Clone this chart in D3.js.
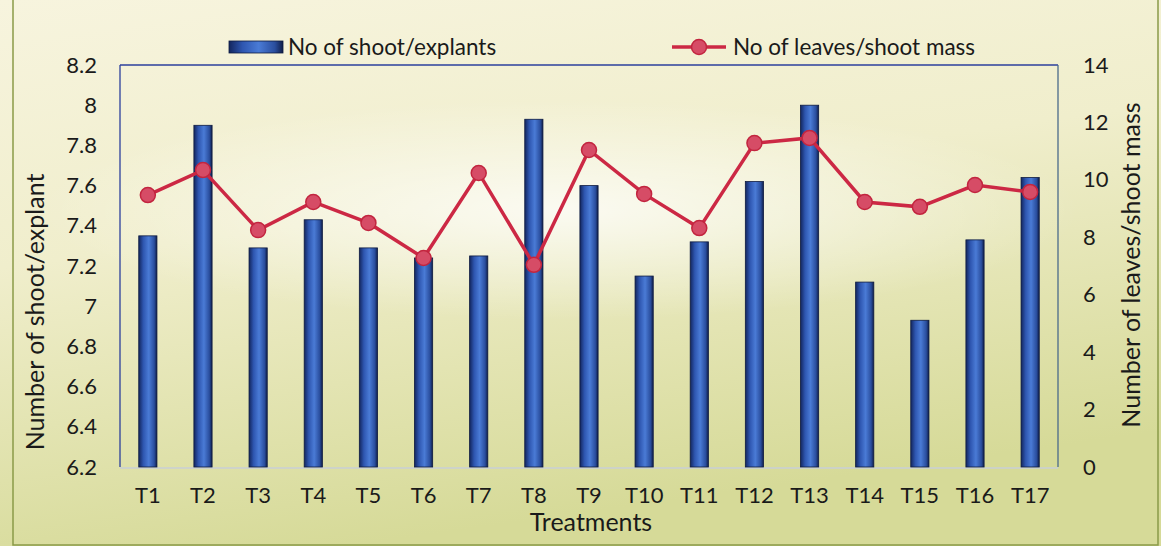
<!DOCTYPE html>
<html>
<head>
<meta charset="utf-8">
<script src="https://cdn.jsdelivr.net/npm/d3@7"></script>
<style>
  body { margin: 0; background: #fff; }
  svg { display: block; font-family: Lato, "Open Sans", sans-serif; }
</style>
</head>
<body>
<script>
// data
const treatments = ['T1','T2','T3','T4','T5','T6','T7','T8','T9','T10','T11','T12','T13','T14','T15','T16','T17']
const shoots = [7.35, 7.90, 7.29, 7.43, 7.29, 7.24, 7.25, 7.93, 7.60, 7.15, 7.32, 7.62, 8.00, 7.12, 6.93, 7.33, 7.64]
const leaves = [9.47, 10.34, 8.25, 9.23, 8.50, 7.28, 10.24, 7.04, 11.04, 9.51, 8.32, 11.28, 11.46, 9.23, 9.06, 9.82, 9.58]
const leftTicks = [6.2, 6.4, 6.6, 6.8, 7, 7.2, 7.4, 7.6, 7.8, 8, 8.2]
const rightTicks = [0, 2, 4, 6, 8, 10, 12, 14]

const svgw = 1161
const svgh = 546
const pLeft = 120, pRight = 1058, pTop = 65, pBottom = 467

const svg = d3.select('body').append('svg').attr('width', svgw).attr('height', svgh)
const defs = svg.append('defs')

// scanned paper background
const bg = defs.append('linearGradient').attr('id', 'bg').attr('x1', 0).attr('y1', 0).attr('x2', 0.3).attr('y2', 1)
bg.append('stop').attr('offset', '0%').attr('stop-color', '#f7f4de')
bg.append('stop').attr('offset', '45%').attr('stop-color', '#f0eecc')
bg.append('stop').attr('offset', '100%').attr('stop-color', '#d6da98')

const glow = defs.append('radialGradient').attr('id', 'glow').attr('cx', 0.5).attr('cy', 0.5).attr('r', 0.5)
glow.append('stop').attr('offset', '0%').attr('stop-color', '#ffffff').attr('stop-opacity', 0.75)
glow.append('stop').attr('offset', '100%').attr('stop-color', '#ffffff').attr('stop-opacity', 0)

const barGrad = defs.append('linearGradient').attr('id', 'bar').attr('x1', 0).attr('x2', 1)
barGrad.append('stop').attr('offset', '0%').attr('stop-color', '#13265e')
barGrad.append('stop').attr('offset', '25%').attr('stop-color', '#2e56b0')
barGrad.append('stop').attr('offset', '55%').attr('stop-color', '#4a7bd6')
barGrad.append('stop').attr('offset', '85%').attr('stop-color', '#2a4e9e')
barGrad.append('stop').attr('offset', '100%').attr('stop-color', '#0f1d48')

svg.append('rect').attr('width', svgw).attr('height', svgh).attr('fill', 'url(#bg)')
svg.append('ellipse').attr('cx', 560).attr('cy', 210).attr('rx', 520).attr('ry', 110)
	.attr('fill', 'url(#glow)')
svg.append('rect').attr('x', 13).attr('y', -2).attr('width', 1145).attr('height', 547)
	.attr('fill', 'none').attr('stroke', '#8a9a48').attr('stroke-width', 1.5)

const xScale = d3.scaleBand()
	.domain(treatments)
	.range([pLeft, pRight])
	.paddingInner(0.67)
	.paddingOuter(0.34)

const yLeft = d3.scaleLinear().domain([6.2, 8.2]).range([pBottom, pTop])
const yRight = d3.scaleLinear().domain([0, 14]).range([pBottom, pTop])

// plot frame
svg.append('line').attr('x1', pLeft).attr('x2', pRight).attr('y1', pTop).attr('y2', pTop).attr('stroke', '#2b3f9c').attr('stroke-width', 1.3)
svg.append('line').attr('x1', pLeft).attr('x2', pLeft).attr('y1', pTop).attr('y2', pBottom).attr('stroke', '#2b3f9c').attr('stroke-width', 1.3)
svg.append('line').attr('x1', pRight).attr('x2', pRight).attr('y1', pTop).attr('y2', pBottom).attr('stroke', '#4b6a8a').attr('stroke-width', 1.3)
svg.append('line').attr('x1', pLeft).attr('x2', pRight).attr('y1', pBottom + 1).attr('y2', pBottom + 1).attr('stroke', '#c9cfd6').attr('stroke-width', 1.5)

// bars
svg.selectAll('rect.bar')
	.data(shoots)
	.enter()
	.append('rect')
	.attr('class', 'bar')
	.attr('x', (d, i) => xScale(treatments[i]))
	.attr('y', d => yLeft(d))
	.attr('width', xScale.bandwidth())
	.attr('height', d => pBottom - yLeft(d))
	.attr('fill', 'url(#bar)')
	.attr('stroke', '#0d1a40')
	.attr('stroke-width', 0.8)

// line series
const cx = (d, i) => xScale(treatments[i]) + xScale.bandwidth() / 2
const line = d3.line().x(cx).y(d => yRight(d))
svg.append('path')
	.datum(leaves)
	.attr('d', line)
	.attr('fill', 'none')
	.attr('stroke', '#cc2844')
	.attr('stroke-width', 3.5)
svg.selectAll('circle.pt')
	.data(leaves)
	.enter()
	.append('circle')
	.attr('class', 'pt')
	.attr('cx', cx)
	.attr('cy', d => yRight(d))
	.attr('r', 7.5)
	.attr('fill', '#d64c66')
	.attr('stroke', '#c2253f')
	.attr('stroke-width', 1.5)

// axes (labels only)
const yAxisL = d3.axisLeft(yLeft).tickValues(leftTicks).tickSize(0).tickPadding(23).tickFormat(d3.format('~g'))
const yAxisR = d3.axisRight(yRight).tickValues(rightTicks).tickSize(0).tickPadding(25)
const xAxis = d3.axisBottom(xScale).tickSize(0).tickPadding(20)

const gl = svg.append('g').attr('transform', `translate(${pLeft},0)`).call(yAxisL)
const gr = svg.append('g').attr('transform', `translate(${pRight},0)`).call(yAxisR)
const gx = svg.append('g').attr('transform', `translate(0,${pBottom})`).call(xAxis)
for (const g of [gl, gr, gx]) {
	g.select('.domain').remove()
	g.selectAll('text').attr('font-size', 22).attr('fill', '#1a1a1a').attr('font-family', 'Lato, sans-serif')
}

// titles
svg.append('text').attr('x', 591).attr('y', 531).attr('text-anchor', 'middle')
	.attr('font-size', 25).attr('fill', '#1a1a1a').text('Treatments')
svg.append('text').attr('transform', 'translate(44,312) rotate(-90)').attr('text-anchor', 'middle')
	.attr('font-size', 25).attr('fill', '#1a1a1a').text('Number of shoot/explant')
svg.append('text').attr('transform', 'translate(1140,265) rotate(-90)').attr('text-anchor', 'middle')
	.attr('font-size', 25).attr('fill', '#1a1a1a').text('Number of leaves/shoot mass')

// legend
const lg = svg.append('g').attr('font-size', 22.5).attr('fill', '#1a1a1a')
lg.append('rect').attr('x', 229).attr('y', 41).attr('width', 54).attr('height', 12)
	.attr('fill', 'url(#bar)').attr('stroke', '#0d1a40').attr('stroke-width', 0.8)
lg.append('text').attr('x', 288).attr('y', 55).text('No of shoot/explants')
lg.append('line').attr('x1', 672).attr('x2', 726).attr('y1', 47).attr('y2', 47)
	.attr('stroke', '#cc2844').attr('stroke-width', 3.5)
lg.append('circle').attr('cx', 699).attr('cy', 47).attr('r', 7.5)
	.attr('fill', '#d64c66').attr('stroke', '#c2253f').attr('stroke-width', 1.5)
lg.append('text').attr('x', 733).attr('y', 55).text('No of leaves/shoot mass')
</script>
</body>
</html>
